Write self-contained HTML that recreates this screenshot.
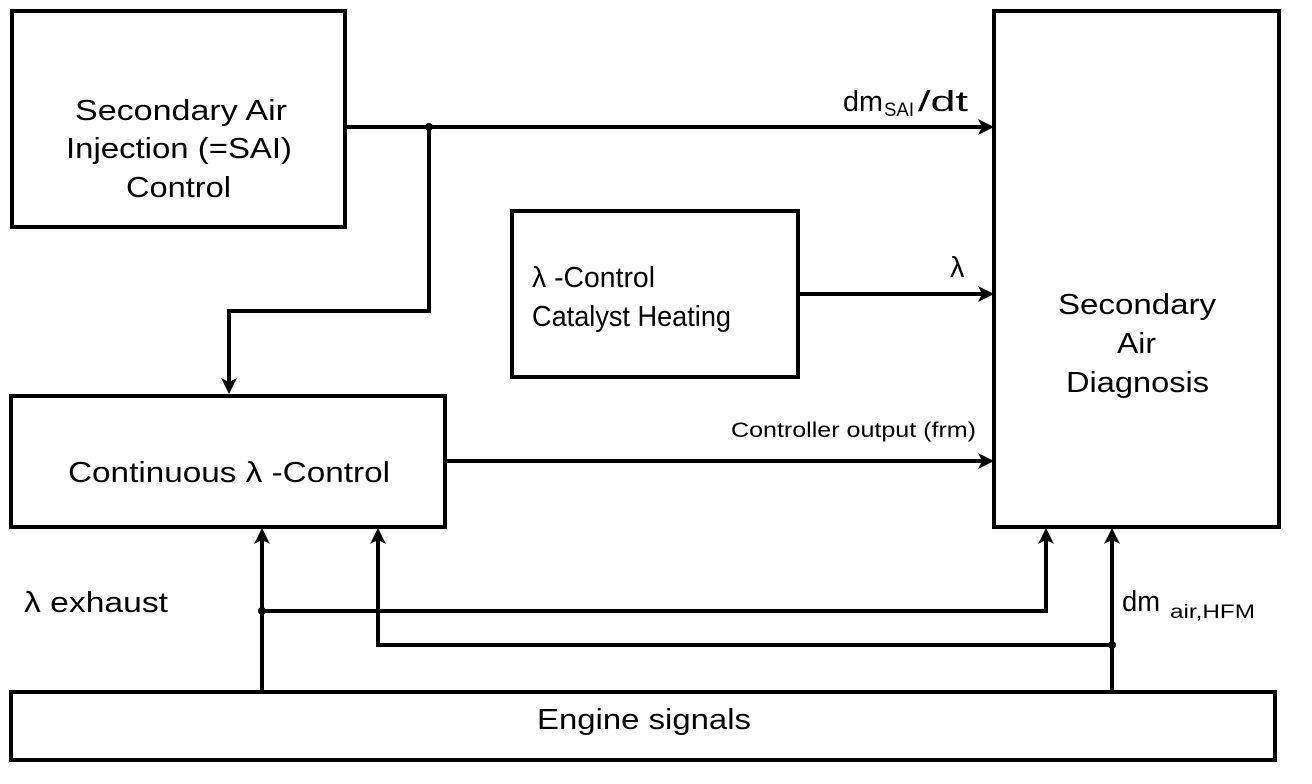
<!DOCTYPE html>
<html><head><meta charset="utf-8"><style>
html,body{margin:0;padding:0;background:#fff;}
svg{display:block;}
text{font-family:"Liberation Sans",Arial,sans-serif;fill:#000;}
</style></head><body>
<svg width="1312" height="784" viewBox="0 0 1312 784" xmlns="http://www.w3.org/2000/svg">
<g fill="none" stroke="#000" stroke-width="4">
<rect x="12" y="11" width="333" height="216"/>
<rect x="512" y="211" width="286" height="166"/>
<rect x="11" y="396" width="434" height="131"/>
<rect x="994" y="11" width="285" height="516"/>
<rect x="11" y="692" width="1264" height="68"/>
<polyline points="345,127 990,127"/>
<polyline points="429,127 429,311 229,311 229,388"/>
<polyline points="798,294 990,294"/>
<polyline points="445,461 990,461"/>
<polyline points="262,692 262,533"/>
<polyline points="262,611 1046,611 1046,533"/>
<polyline points="378,533 378,645 1112,645"/>
<polyline points="1112,692 1112,533"/>
</g>
<g fill="#000">
<circle cx="429" cy="127" r="4"/>
<circle cx="262" cy="611" r="4"/>
<circle cx="1112" cy="645" r="4"/>
<polygon points="994,127 978,119 982,127 978,135"/>
<polygon points="994,294 978,286 982,294 978,302"/>
<polygon points="994,461 978,453 982,461 978,469"/>
<polygon points="229,394 221,378 229,382 237,378"/>
<polygon points="262,528 254,544 262,540 270,544"/>
<polygon points="378,528 370,544 378,540 386,544"/>
<polygon points="1046,528 1038,544 1046,540 1054,544"/>
<polygon points="1112,528 1104,544 1112,540 1120,544"/>
</g>
<g font-size="29" lengthAdjust="spacingAndGlyphs">
<text x="75" y="120" textLength="212" lengthAdjust="spacingAndGlyphs">Secondary Air</text>
<text x="66" y="158" textLength="226" lengthAdjust="spacingAndGlyphs">Injection (=SAI)</text>
<text x="126" y="197" textLength="105" lengthAdjust="spacingAndGlyphs">Control</text>
<text x="68" y="482" textLength="322" lengthAdjust="spacingAndGlyphs">Continuous λ -Control</text>
<text x="1058" y="314" textLength="158" lengthAdjust="spacingAndGlyphs">Secondary</text>
<text x="1117" y="353" textLength="39" lengthAdjust="spacingAndGlyphs">Air</text>
<text x="1066" y="392" textLength="143" lengthAdjust="spacingAndGlyphs">Diagnosis</text>
<text x="537" y="729" textLength="214" lengthAdjust="spacingAndGlyphs">Engine signals</text>
<text x="532" y="287" textLength="123" lengthAdjust="spacingAndGlyphs">λ -Control</text>
<text x="532" y="326" textLength="199" lengthAdjust="spacingAndGlyphs">Catalyst Heating</text>
<text x="24" y="612" textLength="144" lengthAdjust="spacingAndGlyphs">λ exhaust</text>
<text x="1122" y="611" textLength="38" lengthAdjust="spacingAndGlyphs">dm</text>
<text x="843" y="111" textLength="40" lengthAdjust="spacingAndGlyphs">dm</text>
<text x="918" y="111" textLength="50" lengthAdjust="spacingAndGlyphs">/dt</text>
<text x="950" y="277">λ</text>
</g>
<text x="1170" y="618" font-size="19" textLength="85" lengthAdjust="spacingAndGlyphs">air,HFM</text>
<text x="884" y="116" font-size="19" textLength="30" lengthAdjust="spacingAndGlyphs">SAI</text>
<text x="731" y="437" font-size="21" textLength="245" lengthAdjust="spacingAndGlyphs">Controller output (frm)</text>
</svg>
</body></html>
